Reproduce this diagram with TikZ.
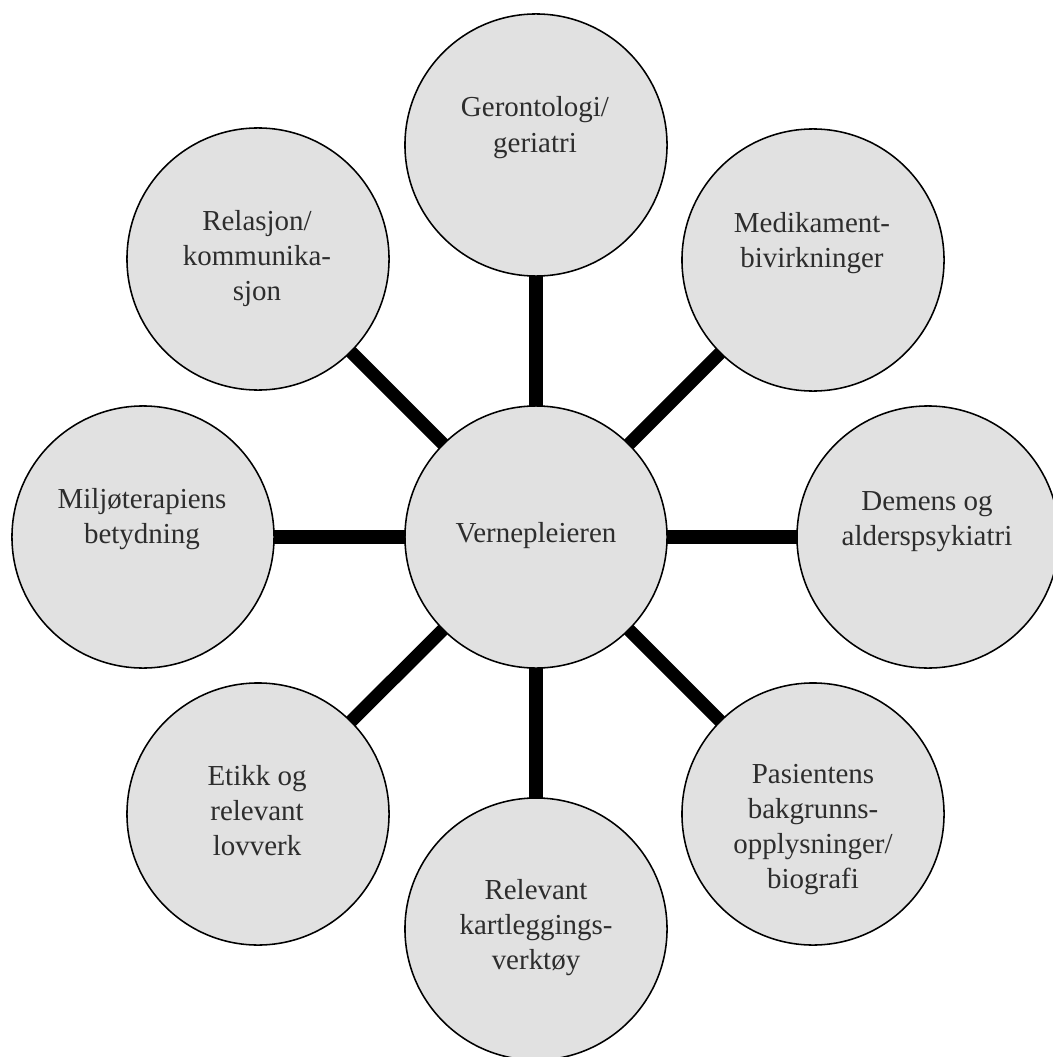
\documentclass[tikz,border=0pt]{standalone}
\usepackage{fontspec}
\setmainfont{Liberation Serif}
\usetikzlibrary{backgrounds}
\definecolor{circfill}{RGB}{225,225,225}
\definecolor{inkgray}{RGB}{45,45,45}
\newcommand{\cellt}[1]{\begin{tabular}[t]{@{}c@{}}#1\end{tabular}}
\begin{document}
\begin{tikzpicture}[x=0.025cm,y=-0.025cm,
  bubble/.style={circle,draw=black,line width=1.1pt,fill=circfill,minimum size=6.55cm,inner sep=0pt},
  lbl/.style={anchor=base,inner sep=0pt,text=inkgray,font=\fontsize{20.6}{24.9}\selectfont},
  spoke/.style={line width=9.3pt,draw=black}]
\useasboundingbox (0,0) rectangle (1052,1057);

% circles
\node[bubble] (c)  at (536,537) {};
\node[bubble] (n)  at (536,145) {};
\node[bubble] (ne) at (813,260) {};
\node[bubble] (e)  at (928,537) {};
\node[bubble] (se) at (813,814) {};
\node[bubble] (s)  at (536,929) {};
\node[bubble] (sw) at (258,814) {};
\node[bubble] (w)  at (143,537) {};
\node[bubble] (nw) at (258,259) {};

% spokes
\begin{pgfonlayer}{background}
\foreach \o in {n,ne,e,se,s,sw,w,nw}
  \draw[spoke] (c.center) -- (\o.center);
\end{pgfonlayer}

% labels
\node[lbl] (tc)  at (536,542) {\cellt{Vernepleieren}};
\node[lbl] (tn)  at (535,117) {\cellt{Gerontologi/\\geriatri}};
\node[lbl] (tne) at (812,232) {\cellt{Medikament-\\bivirkninger}};
\node[lbl] (te)  at (927,510) {\cellt{Demens og\\alderspsykiatri}};
\node[lbl] (tse) at (813,783) {\cellt{Pasientens\\bakgrunns-\\opplysninger/\\biografi}};
\node[lbl] (ts)  at (536,899) {\cellt{Relevant\\kartleggings-\\verktøy}};
\node[lbl] (tsw) at (257,785) {\cellt{Etikk og\\relevant\\lovverk}};
\node[lbl] (tw)  at (142,508) {\cellt{Miljøterapiens\\betydning}};
\node[lbl] (tnw) at (257,230) {\cellt{Relasjon/\\kommunika-\\sjon}};
\end{tikzpicture}
\end{document}
